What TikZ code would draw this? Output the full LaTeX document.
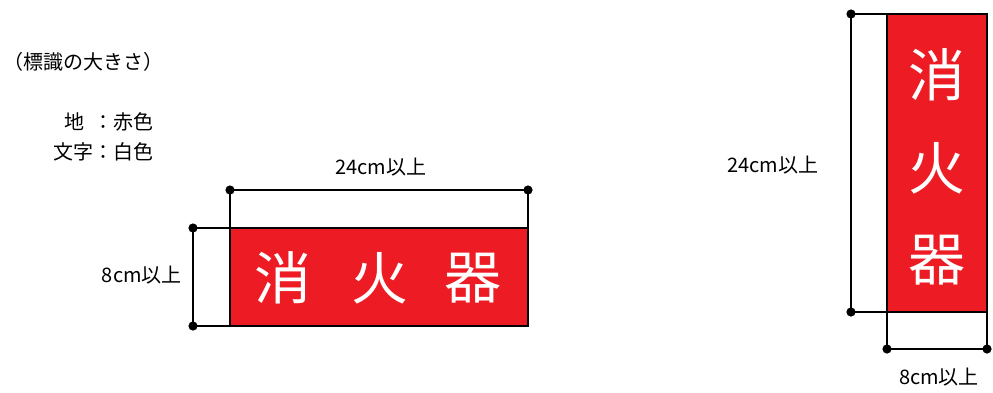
\documentclass[tikz,border=0pt]{standalone}
\usepackage{fontspec}
\setmainfont{Noto Sans CJK JP}
\usepackage{tikz}
\definecolor{signred}{RGB}{237,28,36}

\begin{document}
\begin{tikzpicture}[x=1pt,y=-1pt]
              \tikzstyle{every node}+=[inner sep=0pt]
              \tikzstyle{dimline}=[black, line width=1.3pt]
              \tikzstyle{dimlabel}=[font=\fontsize{20}{20}\selectfont]
              \tikzstyle{legend}=[font=\fontsize{20}{20}\selectfont]
              \tikzstyle{signchar}=[text=white, font=\fontsize{57}{57}\selectfont]
              \useasboundingbox [fill=white] (0,0) rectangle (993,392);
              % legend
              \node (title) [legend, anchor=west] at (3,62) {（標識の大きさ）};
              \node (ground) [legend, anchor=east] at (154,122) {地\ \ ：赤色};
              \node (letters) [legend, anchor=east] at (154,152) {文字：白色};
              % horizontal sign
              \draw [dimline, fill=signred] (230,228) rectangle (528,326);
              \coordinate (hnw) at (230,228);
              \coordinate (hne) at (528,228);
              \coordinate (hsw) at (230,326);
              \coordinate (wa) at (230,190);
              \coordinate (wb) at (528,190);
              \coordinate (ha) at (193,228);
              \coordinate (hb) at (193,326);
              \draw [dimline] (hnw) -- (wa) -- (wb) -- (hne);
              \draw [dimline] (hnw) -- (ha) -- (hb) -- (hsw);
              \foreach \p in {wa,wb,ha,hb}
                \fill [black] (\p) circle (4.6);
              \node (wlabel) [dimlabel] at (381,167) {24cm以上};
              \node (hlabel) [dimlabel, anchor=east] at (182,275) {8cm以上};
              \node (c1) [signchar] at (283,278) {消};
              \node (c2) [signchar] at (380,278) {火};
              \node (c3) [signchar] at (473,278) {器};
              % vertical sign
              \draw [dimline, fill=signred] (887,14) rectangle (987,312);
              \coordinate (vne) at (987,14);
              \coordinate (vsw) at (887,312);
              \coordinate (vse) at (987,312);
              \coordinate (la) at (851,14);
              \coordinate (lb) at (851,312);
              \coordinate (ba) at (887,349);
              \coordinate (bb) at (987,349);
              \draw [dimline] (vne) -- (la) -- (lb) -- (vsw);
              \draw [dimline] (vsw) -- (ba) -- (bb) -- (vse);
              \foreach \p in {la,lb,ba,bb}
                \fill [black] (\p) circle (4.6);
              \node (llabel) [dimlabel] at (773,165) {24cm以上};
              \node (blabel) [dimlabel] at (939,377) {8cm以上};
              \node (v1) [signchar] at (937,75) {消};
              \node (v2) [signchar] at (937,168) {火};
              \node (v3) [signchar] at (937,260) {器};
            \end{tikzpicture}
\end{document}
